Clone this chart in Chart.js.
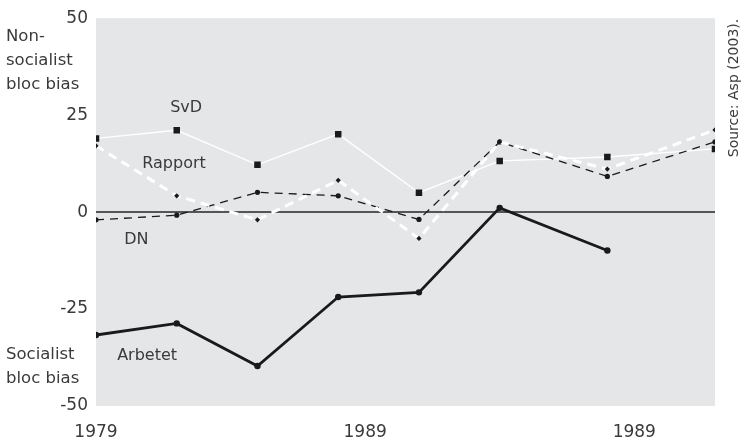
<!DOCTYPE html>
<html>
<head>
<meta charset="utf-8">
<script src="https://cdn.jsdelivr.net/npm/chart.js@4.4.0/dist/chart.umd.min.js"></script>
<style>
  html, body { margin: 0; padding: 0; background: #ffffff; }
  #wrap { width: 744px; height: 442px; position: relative; }
</style>
</head>
<body>
<div id="wrap"><canvas id="c" width="744" height="442"></canvas></div>
<script>
// ---- data ----
const years = [1979, 1982, 1985, 1988, 1991, 1994, 1998, 2002];
const svd = [19, 21.1, 12.2, 20.1, 5, 13.2, 14.2, 16.3];
const rapport = [17.1, 4.2, -2, 8.2, -6.8, 18.1, 11.1, 21.2];
const dn = [-2, -0.8, 5.1, 4.2, -1.9, 18.1, 9.2, 18.1];
const arbetet = [-31.7, -28.7, -39.7, -21.9, -20.7, 1.1, -9.9, null];
const xTickValues = [1979, 1989, 1999];
const xTickLabels = ["1979", "1989", "1989"];
const yTickValues = [50, 25, 0, -25, -50];
const yTickLabels = ["50", "25", "0", "-25", "-50"];
const seriesNames = ["SvD", "Rapport", "DN", "Arbetet"];
// label anchors in data units [year, value]
const seriesLabelAnchors = [[1982.35, 26.8], [1981.9, 12.5], [1980.5, -7.2], [1980.9, -37]];

const FONT = "'DejaVu Sans', sans-serif";
const TEXT = '#3a3a3a';

function pts(arr) { return years.map((y, i) => ({ x: y, y: arr[i] })); }

const bgPlugin = {
  id: 'bg',
  beforeDraw(chart) {
    const { ctx, chartArea: a } = chart;
    ctx.save();
    ctx.fillStyle = '#e5e6e8';
    ctx.fillRect(a.left, a.top, a.right - a.left, a.bottom - a.top);
    ctx.restore();
  }
};

const textPlugin = {
  id: 'texts',
  afterDraw(chart) {
    const { ctx } = chart;
    const xs = chart.scales.x, ys = chart.scales.y;
    ctx.save();
    ctx.fillStyle = TEXT;
    ctx.font = "16px " + FONT;
    ctx.textAlign = 'center';
    ctx.textBaseline = 'middle';
    seriesNames.forEach((n, i) => {
      const [ax, ay] = seriesLabelAnchors[i];
      ctx.fillText(n, xs.getPixelForValue(ax), ys.getPixelForValue(ay));
    });
    // axis side titles
    ctx.textAlign = 'left';
    ctx.textBaseline = 'alphabetic';
    ctx.font = "16.5px " + FONT;
    ["Non-", "socialist", "bloc bias"].forEach((t, i) => ctx.fillText(t, 6, 41 + i * 24));
    ["Socialist", "bloc bias"].forEach((t, i) => ctx.fillText(t, 6, 359 + i * 24));
    // source
    ctx.font = "14px " + FONT;
    ctx.translate(738, 88);
    ctx.rotate(-Math.PI / 2);
    ctx.textAlign = 'center';
    ctx.textBaseline = 'alphabetic';
    ctx.fillText("Source: Asp (2003).", 0, 0);
    ctx.restore();
  }
};

new Chart(document.getElementById('c'), {
  type: 'line',
  data: {
    datasets: [
      {
        label: 'Arbetet', data: pts(arbetet), order: 1,
        borderColor: '#1a1a1a', borderWidth: 2.8, backgroundColor: '#1a1a1a',
        pointRadius: 3.2, pointStyle: 'circle', pointBorderWidth: 0, tension: 0
      },
      {
        label: 'Rapport', data: pts(rapport), order: 2,
        borderColor: '#ffffff', borderWidth: 3, borderDash: [9, 6], backgroundColor: '#1a1a1a',
        pointRadius: 2.6, pointStyle: 'rectRot', pointBorderWidth: 0, tension: 0
      },
      {
        label: 'DN', data: pts(dn), order: 3,
        borderColor: '#1a1a1a', borderWidth: 1.3, borderDash: [8, 6], backgroundColor: '#1a1a1a',
        pointRadius: 2.6, pointStyle: 'circle', pointBorderWidth: 0, tension: 0
      },
      {
        label: 'SvD', data: pts(svd), order: 4,
        borderColor: '#ffffff', borderWidth: 1.4, backgroundColor: '#1a1a1a',
        pointRadius: 4.6, pointStyle: 'rect', pointBorderWidth: 0, tension: 0
      }
    ]
  },
  options: {
    responsive: false,
    animation: false,
    devicePixelRatio: 1,
    layout: { padding: { top: 15, right: 29, left: 0, bottom: 0 } },
    plugins: { legend: { display: false }, tooltip: { enabled: false } },
    scales: {
      x: {
        type: 'linear', min: 1979, max: 2002,
        grid: { display: false, drawTicks: false },
        border: { display: false },
        afterBuildTicks(s) { s.ticks = xTickValues.map(v => ({ value: v })); },
        afterFit(s) { s.height = 36; },
        ticks: {
          padding: 16, color: TEXT, font: { family: FONT, size: 17 },
          maxRotation: 0, autoSkip: false,
          callback(v) { const i = xTickValues.indexOf(v); return i >= 0 ? xTickLabels[i] : ''; }
        }
      },
      y: {
        type: 'linear', min: -50, max: 50,
        grid: {
          drawTicks: false,
          color: (c) => (c.tick && c.tick.value === 0 ? '#555555' : 'rgba(0,0,0,0)'),
          lineWidth: (c) => (c.tick && c.tick.value === 0 ? 2 : 0)
        },
        border: { display: false },
        afterBuildTicks(s) { s.ticks = yTickValues.map(v => ({ value: v })); },
        afterFit(s) { s.width = 96; },
        ticks: {
          padding: 8, color: TEXT, font: { family: FONT, size: 17 },
          callback(v) { const i = yTickValues.indexOf(v); return i >= 0 ? yTickLabels[i] : ''; }
        }
      }
    }
  },
  plugins: [bgPlugin, textPlugin]
});
</script>
</body>
</html>
